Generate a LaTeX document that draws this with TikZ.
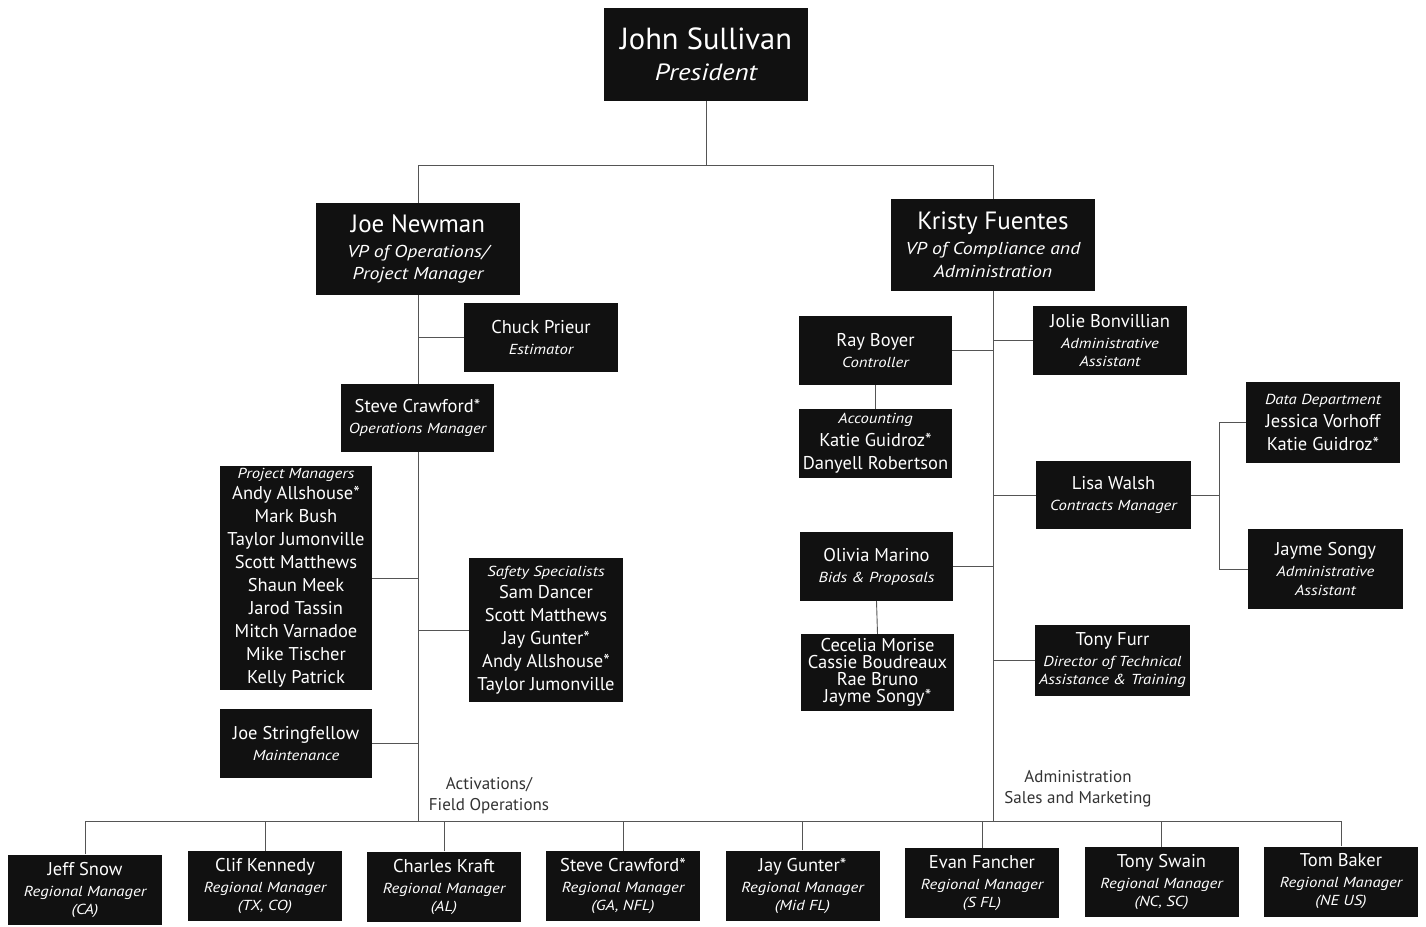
\documentclass[tikz,border=0pt]{standalone}
\usepackage{fontspec}
\setmainfont{PT Sans}
\newfontfamily\subfont{PT Sans}[FakeStretch=1.15]
\definecolor{boxblack}{HTML}{111111}
\definecolor{linegray}{HTML}{555555}
\definecolor{labelgray}{HTML}{333333}
\pgfdeclarelayer{paper}
\pgfdeclarelayer{bg}
\pgfsetlayers{paper,bg,main}
\newcommand\subt[1]{{\subfont\fontsize{14.5}{16}\selectfont\itshape #1}}
\newcommand\vpsub[1]{{\subfont\fontsize{17.2}{19}\selectfont\itshape #1}}
\newcommand\pressub[1]{{\subfont\fontsize{23.5}{25}\selectfont\itshape #1}}
\tikzset{
 box/.style={fill=boxblack, draw=none, text=white, align=center, inner sep=0pt},
 bigname/.style={font=\fontsize{30.5}{31}\selectfont},
 vpname/.style={font=\fontsize{25}{25}\selectfont},
 midname/.style={font=\fontsize{18.5}{21}\selectfont},
 listname/.style={font=\fontsize{18.5}{23}\selectfont},
 tightlist/.style={font=\fontsize{18.5}{17}\selectfont},
 conn/.style={draw=linegray, line width=0.9pt},
 grouplabel/.style={text=labelgray, align=center, font=\fontsize{17}{21}\selectfont},
 midbox/.style={box, midname, minimum width=154pt, minimum height=69pt},
 regbox/.style={box, midname, minimum width=154pt, minimum height=70pt}
}
\begin{document}
\begin{tikzpicture}[x=1pt,y=-1pt]
\begin{pgfonlayer}{paper}
\useasboundingbox[fill=white] (0,0) rectangle (1426,926);
\end{pgfonlayer}
% top
\node[box, bigname, minimum width=204pt, minimum height=93pt] (pres) at (706,54.5) {John Sullivan\\\pressub{President}};
\node[box, vpname, minimum width=204pt, minimum height=92pt] (joe) at (418,249) {Joe Newman\\\vpsub{VP of Operations/}\\[-3pt]\vpsub{Project Manager}};
\node[box, vpname, minimum width=204pt, minimum height=92pt] (kristy) at (993,245) {Kristy Fuentes\\\vpsub{VP of Compliance and}\\[-2pt]\vpsub{Administration}};
% operations side
\node[midbox] (chuck) at (541,337.5) {Chuck Prieur\\\subt{Estimator}};
\node[midbox, minimum width=153pt, minimum height=68pt] (steve) at (417.5,418) {Steve Crawford*\\\subt{Operations Manager}};
\node[box, listname, minimum width=152pt, minimum height=224pt] (pm) at (296,578) {\subt{Project Managers}\\[-2pt]Andy Allshouse*\\Mark Bush\\Taylor Jumonville\\Scott Matthews\\Shaun Meek\\Jarod Tassin\\Mitch Varnadoe\\Mike Tischer\\Kelly Patrick};
\node[box, listname, minimum width=154pt, minimum height=144pt] (safety) at (546,630) {\subt{Safety Specialists}\\[-1pt]Sam Dancer\\Scott Matthews\\Jay Gunter*\\Andy Allshouse*\\Taylor Jumonville};
\node[midbox, minimum width=152pt] (string) at (296,743.5) {Joe Stringfellow\\\subt{Maintenance}};
\node[grouplabel] (actlabel) at (489,796) {Activations/\\Field Operations};
% administration side
\node[midbox, minimum width=153pt] (ray) at (875.5,350.5) {Ray Boyer\\\subt{Controller}};
\node[midbox] (jolie) at (1110,340.5) {Jolie Bonvillian\\\subt{Administrative}\\[-3pt]\subt{Assistant}};
\node[box, listname, minimum width=153pt, minimum height=69pt] (acct) at (875.5,443.5) {\subt{Accounting}\\Katie Guidroz*\\Danyell Robertson};
\node[midbox, minimum width=155pt, minimum height=68pt] (lisa) at (1113.5,495) {Lisa Walsh\\\subt{Contracts Manager}};
\node[box, listname, minimum width=154pt, minimum height=81pt] (data) at (1323,422.5) {\subt{Data Department}\\Jessica Vorhoff\\Katie Guidroz*};
\node[midbox, minimum width=155pt, minimum height=80pt] (jayme) at (1325.5,569) {Jayme Songy\\\subt{Administrative}\\[-2pt]\subt{Assistant}};
\node[midbox, minimum width=153pt] (olivia) at (876.5,566.5) {Olivia Marino\\\subt{Bids \& Proposals}};
\node[box, tightlist, minimum width=153pt, minimum height=77pt] (cecelia) at (877.5,672.5) {Cecelia Morise\\Cassie Boudreaux\\Rae Bruno\\Jayme Songy*};
\node[midbox, minimum width=155pt, minimum height=71pt] (furr) at (1112.5,660.5) {Tony Furr\\\subt{Director of Technical}\\[-3pt]\subt{Assistance \& Training}};
\node[grouplabel] (admlabel) at (1078,789) {Administration\\Sales and Marketing};
% regional managers
\node[regbox] (r1) at (85,889.5) {Jeff Snow\\\subt{Regional Manager}\\[-3pt]\subt{(CA)}};
\node[regbox] (r2) at (265,886) {Clif Kennedy\\\subt{Regional Manager}\\[-3pt]\subt{(TX, CO)}};
\node[regbox] (r3) at (444,886.5) {Charles Kraft\\\subt{Regional Manager}\\[-3pt]\subt{(AL)}};
\node[regbox] (r4) at (623,886) {Steve Crawford*\\\subt{Regional Manager}\\[-3pt]\subt{(GA, NFL)}};
\node[regbox] (r5) at (802.5,885.5) {Jay Gunter*\\\subt{Regional Manager}\\[-3pt]\subt{(Mid FL)}};
\node[regbox] (r6) at (982,883) {Evan Fancher\\\subt{Regional Manager}\\[-3pt]\subt{(S FL)}};
\node[regbox] (r7) at (1161.5,882) {Tony Swain\\\subt{Regional Manager}\\[-3pt]\subt{(NC, SC)}};
\node[regbox] (r8) at (1341,881.5) {Tom Baker\\\subt{Regional Manager}\\[-3pt]\subt{(NE US)}};
% junction coordinates
\coordinate (topL) at (418,165);
\coordinate (topR) at (993,165);
\coordinate (botL) at (85,821);
\coordinate (botR) at (1341,821);
\coordinate (opsEnd) at (418,821);
\coordinate (admEnd) at (993,821);
\coordinate (lisaJ) at (1219,495);
\begin{pgfonlayer}{bg}
\draw[conn] (pres.south) -- (pres.south |- topL);
\draw[conn] (joe.north) -- (topL) -- (topR) -- (kristy.north);
\draw[conn] (joe.south) -- (opsEnd);
\draw[conn] (kristy.south) -- (admEnd);
\draw[conn] (chuck.west) -- (chuck.west -| joe.south);
\draw[conn] (pm.east) -- (pm.east -| joe.south);
\draw[conn] (safety.west) -- (safety.west -| joe.south);
\draw[conn] (string.east) -- (string.east -| joe.south);
\draw[conn] (ray.east) -- (ray.east -| kristy.south);
\draw[conn] (jolie.west) -- (jolie.west -| kristy.south);
\draw[conn] (lisa.west) -- (lisa.west -| kristy.south);
\draw[conn] (olivia.east) -- (olivia.east -| kristy.south);
\draw[conn] (furr.west) -- (furr.west -| kristy.south);
\draw[conn] (ray.south) -- (acct.north);
\draw[conn] (olivia.south) -- (cecelia.north);
\draw[conn] (lisa.east) -- (lisaJ);
\draw[conn] (data.west) -- (data.west -| lisaJ) -- (jayme.west -| lisaJ) -- (jayme.west);
\draw[conn] (botL) -- (botR);
\foreach \r in {r1,r2,r3,r4,r5,r6,r7,r8} {\draw[conn] (\r.north) -- (\r.north |- botL);}
\end{pgfonlayer}
\end{tikzpicture}
\end{document}
